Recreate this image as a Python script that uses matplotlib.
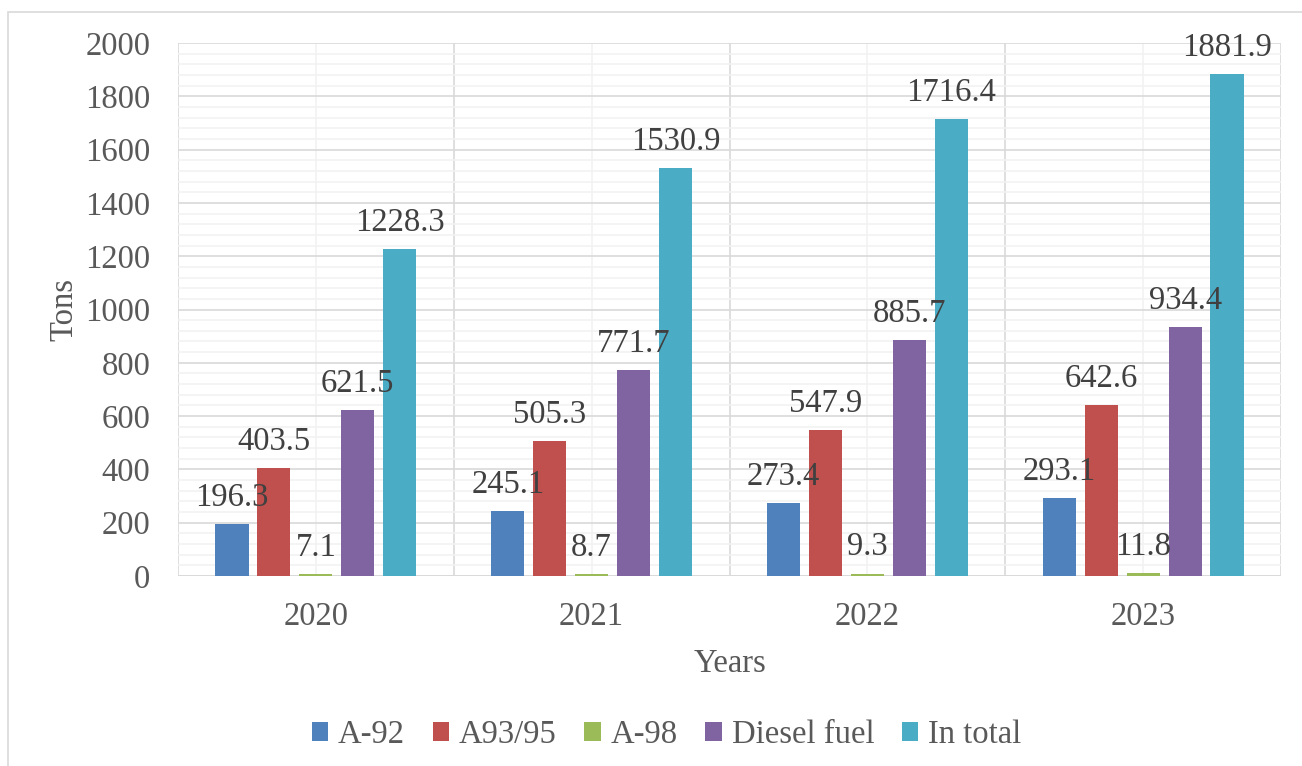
import numpy as np
import matplotlib.pyplot as plt
from matplotlib.patches import Rectangle

years = ['2020', '2021', '2022', '2023']
series = ['A-92', 'A93/95', 'A-98', 'Diesel fuel', 'In total']
a92 = [196.3, 245.1, 273.4, 293.1]
a9395 = [403.5, 505.3, 547.9, 642.6]
a98 = [7.1, 8.7, 9.3, 11.8]
diesel = [621.5, 771.7, 885.7, 934.4]
total = [1228.3, 1530.9, 1716.4, 1881.9]
values = [a92, a9395, a98, diesel, total]
colors = ['#4F81BD', '#C0504D', '#9BBB59', '#8064A2', '#4BACC6']

plt.rcParams['font.family'] = ['Liberation Serif', 'DejaVu Serif']
FS = 23.5

fig = plt.figure(figsize=(13.02, 7.66), dpi=100)
ax = fig.add_axes([0.1367, 0.248, 0.8472, 0.6959])

# outer chart border
fig.patches.append(Rectangle((8/1302, -0.01), 1.02, 1 - 12/766 + 0.01,
                             transform=fig.transFigure, fill=False,
                             edgecolor='#d9d9d9', lw=1.2))

x = np.arange(len(years))
step, width = 0.152, 0.12
for i, (name, vals, c) in enumerate(zip(series, values, colors)):
    pos = x + (i - 2) * step
    ax.bar(pos, vals, width, color=c, label=name, zorder=3)
    for px, v in zip(pos, vals):
        ax.annotate(f'{v}', (px, v), xytext=(0, 13), textcoords='offset points',
                    ha='center', va='baseline', fontsize=FS, color='#404040',
                    zorder=5)

ax.set_xlim(-0.5, 3.5)
ax.set_ylim(0, 2000)
ax.set_yticks(np.arange(0, 2001, 200))
ax.set_yticks(np.arange(0, 2001, 40), minor=True)
ax.set_xticks(np.arange(-0.5, 3.6, 1))
ax.set_xticks(x, minor=True)
ax.set_xticklabels([''] * 5)
ax.set_xticklabels(years, minor=True)
ax.tick_params(axis='both', which='both', length=0, labelsize=FS,
               labelcolor='#595959')
ax.tick_params(axis='x', which='minor', pad=18)
ax.tick_params(axis='y', pad=20)
ax.grid(which='major', color='#d9d9d9', lw=1.2, zorder=0)
ax.grid(which='minor', color='#f2f2f2', lw=1.2, zorder=0)
for s in ax.spines.values():
    s.set_visible(False)
ax.axhline(0, color='#d9d9d9', lw=1.2, zorder=2)

ax.set_ylabel('Tons', fontsize=FS, color='#595959', labelpad=4)
ax.set_xlabel('Years', fontsize=FS, color='#595959', labelpad=12)

fig.legend(loc='center', bbox_to_anchor=(0.512, 0.041), ncol=5, frameon=False,
           fontsize=FS, labelcolor='#595959', handlelength=0.5,
           handleheight=0.5, handletextpad=0.3, columnspacing=0.85)

fig.savefig('out.png', dpi=100)
